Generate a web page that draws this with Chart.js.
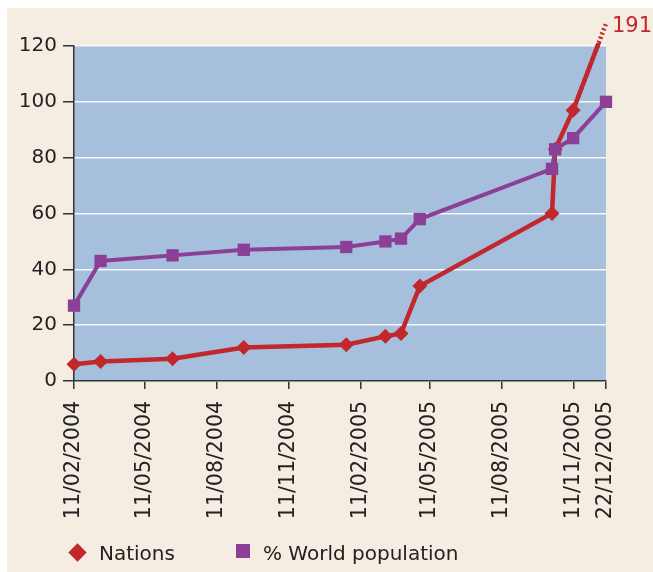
<!DOCTYPE html>
<html>
<head>
<meta charset="utf-8">
<script src="https://cdn.jsdelivr.net/npm/chart.js@4.4.1/dist/chart.umd.min.js"></script>
<style>
  html, body { margin: 0; padding: 0; background: #ffffff; }
  #wrap { position: absolute; left: 7px; top: 8px; width: 646px; height: 564px; background: #f6ede2; }
  .legend-text { position: absolute; top: 541px; line-height: 20px; font: 20px "DejaVu Sans", Verdana, sans-serif; color: #222; white-space: nowrap; }
  .legend-mark { position: absolute; }
  .mark-rectRot { width: 13px; height: 13px; left: 71px; top: 546px; transform: rotate(45deg); }
  .mark-rect { width: 14px; height: 14px; left: 236px; top: 544px; }
</style>
</head>
<body>
<div id="wrap"><canvas id="adoptionChart"></canvas></div>
<div id="legend"></div>
<script>
// Données (dates jj/mm/aaaa)
const pointDates = ['11/02/2004', '16/03/2004', '16/06/2004', '15/09/2004', '24/01/2005', '15/03/2005',
                    '04/04/2005', '28/04/2005', '14/10/2005', '18/10/2005', '10/11/2005', '22/12/2005'];
// dernière valeur : là où la ligne brisée s'arrête (la vraie valeur est écrite à côté)
const nations = [6, 7, 8, 12, 13, 16, 17, 34, 60, 83, 97, 128];
const worldPopulation = [27, 43, 45, 47, 48, 50, 51, 58, 76, 83, 87, 100];
const nationsEndLabel = '191';
const tickLabels = ['11/02/2004', '11/05/2004', '11/08/2004', '11/11/2004', '11/02/2005',
                    '11/05/2005', '11/08/2005', '11/11/2005', '22/12/2005'];
const yTicks = [0, 20, 40, 60, 80, 100, 120];

// jours depuis la première date
function toDay(s) {
    const p = s.split('/').map(Number);
    const o = tickLabels[0].split('/').map(Number);
    return (Date.UTC(p[2], p[1] - 1, p[0]) - Date.UTC(o[2], o[1] - 1, o[0])) / 86400000;
}
const tickDays = tickLabels.map(toDay);
const pointDays = pointDates.map(toDay);

const red = '#c1272d';
const purple = '#8c3f97';

const plotBackground = {
    id: 'plotBackground',
    beforeDraw(chart) {
        const { ctx, chartArea: a } = chart;
        ctx.save();
        ctx.fillStyle = '#a5bfdc';
        ctx.fillRect(a.left, a.top, a.right - a.left, a.bottom - a.top);
        ctx.restore();
    }
};

const endLabel = {
    id: 'endLabel',
    afterDatasetsDraw(chart) {
        const meta = chart.getDatasetMeta(0);
        const p = meta.data[meta.data.length - 1];
        const ctx = chart.ctx;
        ctx.save();
        ctx.fillStyle = red;
        ctx.font = '21px "DejaVu Sans"';
        ctx.textAlign = 'left';
        ctx.textBaseline = 'middle';
        ctx.fillText(nationsEndLabel, p.x + 6, p.y + 3);
        ctx.restore();
    }
};

Chart.defaults.font.family = '"DejaVu Sans", Verdana, sans-serif';
Chart.defaults.font.size = 20;
Chart.defaults.color = '#222';

const ctx = document.getElementById('adoptionChart').getContext('2d');
const chart = new Chart(ctx, {
    type: 'line',
    data: {
        datasets: [
            {
                label: 'Nations',
                data: pointDays.map((d, i) => ({ x: d, y: nations[i] })),
                borderColor: red,
                borderWidth: 4.5,
                pointStyle: 'rectRot',
                pointRadius: c => c.dataIndex === nations.length - 1 ? 0 : 7.5,
                pointBackgroundColor: red,
                pointBorderWidth: 0,
                tension: 0,
                clip: { left: 12, right: 12, top: 3, bottom: 12 },
                order: 1
            },
            {
                label: '% World population',
                data: pointDays.map((d, i) => ({ x: d, y: worldPopulation[i] })),
                borderColor: purple,
                borderWidth: 4,
                pointStyle: 'rect',
                pointRadius: 8.7,
                pointBackgroundColor: purple,
                pointBorderWidth: 0,
                tension: 0,
                clip: 12,
                order: 0
            },
            {
                // bout en pointillé au-dessus du graphique
                label: '',
                data: pointDays.slice(-2).map((d, i) => ({ x: d, y: nations.slice(-2)[i] })),
                borderColor: red,
                borderWidth: 4.5,
                borderDash: [2, 2.5],
                pointRadius: 0,
                tension: 0,
                clip: false,
                order: 2
            }
        ]
    },
    options: {
        responsive: true,
        maintainAspectRatio: false,
        animation: false,
        layout: {
            padding: { top: 38, right: 47, left: 0, bottom: 0 }
        },
        plugins: {
            legend: { display: false }, // légende HTML plus bas
            tooltip: { enabled: false }
        },
        scales: {
            x: {
                type: 'linear',
                min: tickDays[0],
                max: tickDays[tickDays.length - 1],
                afterBuildTicks: s => { s.ticks = tickDays.map(v => ({ value: v })); },
                afterFit: s => { s.height = 191; },
                grid: {
                    drawOnChartArea: false,
                    tickLength: 8,
                    tickColor: '#333',
                    lineWidth: 1.5
                },
                border: { color: '#333', width: 1.5 },
                ticks: {
                    autoSkip: false,
                    maxRotation: 90,
                    minRotation: 90,
                    padding: 12,
                    color: '#222',
                    font: { size: 20.5 },
                    callback: v => tickLabels[tickDays.indexOf(v)]
                }
            },
            y: {
                min: 0,
                max: 120,
                afterBuildTicks: s => { s.ticks = yTicks.map(v => ({ value: v })); },
                afterFit: s => { s.width = 67; },
                grid: {
                    color: 'rgba(255,255,255,0.9)',
                    lineWidth: 1.5,
                    tickColor: '#333',
                    tickLength: 11
                },
                border: { color: '#333', width: 1.5 },
                ticks: {
                    padding: 6,
                    color: '#222'
                }
            }
        }
    },
    plugins: [plotBackground, endLabel]
});

// Légende personnalisée
const legendLeft = { 'Nations': 99, '% World population': 263 };
const legend = document.getElementById('legend');
chart.data.datasets.filter(ds => ds.label).forEach(ds => {
    const mark = document.createElement('div');
    mark.className = 'legend-mark mark-' + ds.pointStyle;
    mark.style.background = ds.pointBackgroundColor;
    legend.appendChild(mark);

    const text = document.createElement('div');
    text.className = 'legend-text';
    text.style.left = legendLeft[ds.label] + 'px';
    text.textContent = ds.label;
    legend.appendChild(text);
});
</script>
</body>
</html>
